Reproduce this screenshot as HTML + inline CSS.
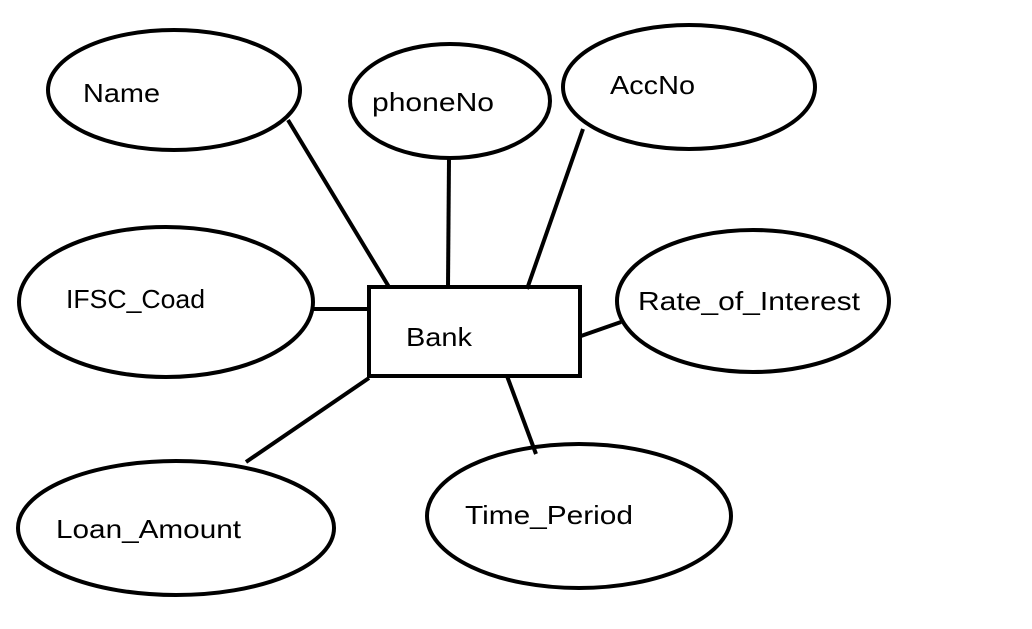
<!DOCTYPE html>
<html><head><style>html,body{margin:0;padding:0;background:#fff;}svg{display:block}</style></head>
<body>
<svg width="1032" height="629" viewBox="0 0 1032 629" xmlns="http://www.w3.org/2000/svg" font-family="Liberation Sans, DejaVu Sans, sans-serif" font-size="26" fill="none" stroke="#000" stroke-width="4">
<ellipse cx="174" cy="90" rx="126" ry="60"/>
<ellipse cx="450" cy="101" rx="100" ry="57"/>
<ellipse cx="689" cy="87" rx="126" ry="62"/>
<ellipse cx="166" cy="302" rx="147" ry="75"/>
<ellipse cx="753" cy="301" rx="136" ry="71"/>
<ellipse cx="176" cy="528" rx="158" ry="67"/>
<ellipse cx="579" cy="516" rx="152" ry="72"/>
<rect x="369" y="287" width="211" height="89"/>
<line x1="288" y1="120" x2="389" y2="287"/>
<line x1="449" y1="158" x2="448" y2="287"/>
<line x1="583" y1="129" x2="527" y2="289"/>
<line x1="313" y1="309" x2="369" y2="309"/>
<line x1="581" y1="336" x2="621" y2="322"/>
<line x1="369" y1="378" x2="246" y2="462"/>
<line x1="507" y1="376" x2="536" y2="454"/>
<g fill="#000" stroke="none">
<text x="83" y="102" textLength="77" lengthAdjust="spacingAndGlyphs">Name</text>
<text x="372" y="111" textLength="122" lengthAdjust="spacingAndGlyphs">phoneNo</text>
<text x="610" y="94" textLength="85" lengthAdjust="spacingAndGlyphs">AccNo</text>
<text x="66" y="308" textLength="139" lengthAdjust="spacingAndGlyphs">IFSC_Coad</text>
<text x="638" y="310" textLength="222" lengthAdjust="spacingAndGlyphs">Rate_of_Interest</text>
<text x="56" y="538" textLength="185" lengthAdjust="spacingAndGlyphs">Loan_Amount</text>
<text x="465" y="524" textLength="168" lengthAdjust="spacingAndGlyphs">Time_Period</text>
<text x="406" y="346" textLength="66" lengthAdjust="spacingAndGlyphs">Bank</text>
</g>
</svg>
</body></html>
